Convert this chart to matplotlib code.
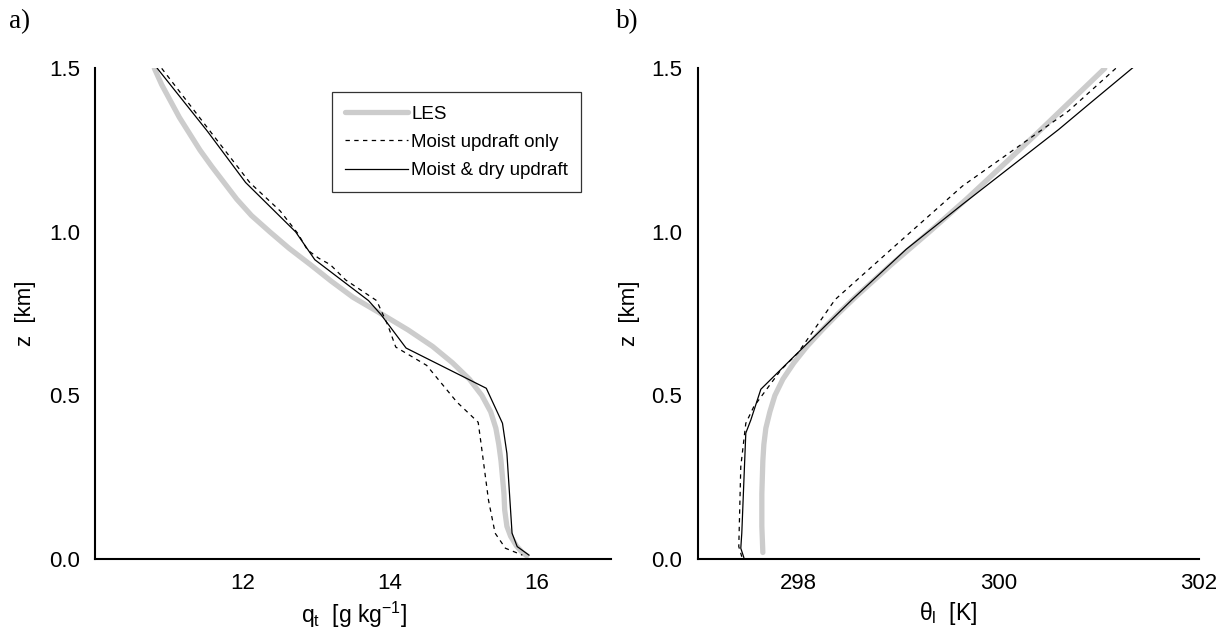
#!/usr/bin/env python
# coding: utf-8

import matplotlib
matplotlib.use('Agg')
import matplotlib.pyplot as plt

# total water profiles, q_t [g/kg] vs z [km]
qt_les = [10.80, 10.90, 11.02, 11.14, 11.28, 11.42, 11.58, 11.75, 11.92, 12.12,
          12.37, 12.63, 12.92, 13.20, 13.50, 13.88, 14.25, 14.58, 14.85, 15.08,
          15.25, 15.37, 15.44, 15.48, 15.51, 15.53, 15.55, 15.56, 15.59, 15.64,
          15.72, 15.80, 15.86]
z_qt_les = [1.50, 1.45, 1.40, 1.35, 1.30, 1.25, 1.20, 1.15, 1.10, 1.05,
            1.00, 0.95, 0.90, 0.85, 0.80, 0.75, 0.70, 0.65, 0.60, 0.55,
            0.50, 0.45, 0.40, 0.35, 0.30, 0.25, 0.20, 0.15, 0.10, 0.07,
            0.04, 0.02, 0.01]

qt_moist = [10.90, 11.55, 12.10, 12.51, 12.75, 12.88, 13.03, 13.19, 13.40, 13.82,
            13.97, 14.08, 14.50, 14.91, 15.20, 15.25, 15.34, 15.43, 15.57, 15.80]
z_qt_moist = [1.50, 1.31, 1.15, 1.064, 0.995, 0.945, 0.92, 0.90, 0.853, 0.79,
              0.716, 0.648, 0.592, 0.48, 0.418, 0.334, 0.18, 0.079, 0.033, 0.012]

qt_dry = [10.84, 11.52, 12.04, 12.72, 12.98, 13.71, 13.88, 14.22, 15.31, 15.53,
          15.59, 15.66, 15.73, 15.89]
z_qt_dry = [1.50, 1.308, 1.151, 1.0, 0.915, 0.79, 0.747, 0.645, 0.522, 0.415,
            0.323, 0.079, 0.038, 0.012]

# liquid water potential temperature profiles, theta_l [K] vs z [km]
th_les = [301.06, 300.72, 300.38, 300.03, 299.68, 299.31, 298.93, 298.57, 298.40,
          298.24, 298.09, 297.96, 297.85, 297.77, 297.72, 297.68, 297.66, 297.65,
          297.64, 297.64, 297.65]
z_th_les = [1.50, 1.40, 1.30, 1.20, 1.10, 1.00, 0.90, 0.80, 0.75,
            0.70, 0.65, 0.60, 0.55, 0.50, 0.45, 0.40, 0.35, 0.30,
            0.20, 0.10, 0.02]

th_moist = [301.17, 300.70, 299.64, 298.96, 298.37, 298.0, 297.83, 297.56, 297.48,
            297.43, 297.41, 297.44]
z_th_moist = [1.50, 1.37, 1.14, 0.955, 0.793, 0.63, 0.578, 0.466, 0.415,
              0.283, 0.038, 0.007]

th_dry = [301.34, 300.90, 300.60, 299.64, 299.08, 298.54, 297.96, 297.63, 297.53,
          297.48, 297.44, 297.43, 297.46]
z_th_dry = [1.502, 1.39, 1.313, 1.084, 0.947, 0.793, 0.619, 0.519, 0.425,
            0.385, 0.079, 0.033, 0.005]

labels = ['LES', 'Moist updraft only', 'Moist & dry updraft']
z_ticks = [0.0, 0.5, 1.0, 1.5]
qt_ticks = [12, 14, 16]
th_ticks = [298, 300, 302]

plt.rcParams['font.family'] = ['Liberation Sans', 'DejaVu Sans']
plt.rcParams['mathtext.fontset'] = 'custom'
plt.rcParams['mathtext.rm'] = 'Liberation Sans'
plt.rcParams['mathtext.it'] = 'Liberation Sans'


def style(ax):
    for s in ['top', 'right']:
        ax.spines[s].set_visible(False)
    for s in ['left', 'bottom']:
        ax.spines[s].set_linewidth(1.5)
    ax.tick_params(length=0, labelsize=16)
    ax.tick_params(axis='x', pad=10)
    ax.tick_params(axis='y', pad=11)
    ax.set_ylim(0, 1.5)
    ax.set_yticks(z_ticks)
    ax.set_yticklabels(['%.1f' % v for v in z_ticks])
    ax.set_ylabel('z  [km]', fontsize=16)


def profiles(ax, x1, z1, x2, z2, x3, z3):
    ax.plot(x1, z1, color='#cccccc', lw=3.8, solid_capstyle='round',
            solid_joinstyle='round', label=labels[0])
    ax.plot(x2, z2, color='black', lw=0.9, linestyle=(0, (3.5, 3.5)),
            label=labels[1])
    ax.plot(x3, z3, color='black', lw=0.9, label=labels[2])


fig = plt.figure(figsize=(12.27, 6.37), dpi=100)
ax1 = fig.add_axes([0.0778, 0.1224, 0.4199, 0.7703])
ax2 = fig.add_axes([0.5686, 0.1224, 0.4086, 0.7703])

profiles(ax1, qt_les, z_qt_les, qt_moist, z_qt_moist, qt_dry, z_qt_dry)
style(ax1)
ax1.set_xlim(10, 17)
ax1.set_xticks(qt_ticks)
ax1.set_xlabel(r'q$_\mathregular{t}$  [g kg$^\mathregular{-1}$]', fontsize=16.5)
ax1.yaxis.set_label_coords(-0.115, 0.5)
ax1.xaxis.set_label_coords(0.502, -0.083)

leg = ax1.legend(loc='upper left', bbox_to_anchor=(0.2703, 0.8551),
                 bbox_transform=fig.transFigure, fontsize=13.5,
                 frameon=True, fancybox=False, handlelength=3.35,
                 handletextpad=0.2, labelspacing=0.6, borderpad=0.7,
                 borderaxespad=0)
leg.get_frame().set_edgecolor('black')
leg.get_frame().set_linewidth(0.9)

profiles(ax2, th_les, z_th_les, th_moist, z_th_moist, th_dry, z_th_dry)
style(ax2)
ax2.set_xlim(297, 302)
ax2.set_xticks(th_ticks)
ax2.set_xlabel(r'$\mathregular{\theta_l}$  [K]', fontsize=16.5)
ax2.yaxis.set_label_coords(-0.115, 0.5)
ax2.xaxis.set_label_coords(0.499, -0.083)

fig.text(0.007, 0.985, 'a)', fontsize=19.5, family='Liberation Serif', va='top')
fig.text(0.502, 0.985, 'b)', fontsize=19.5, family='Liberation Serif', va='top')

fig.savefig('out.png', dpi=100)
